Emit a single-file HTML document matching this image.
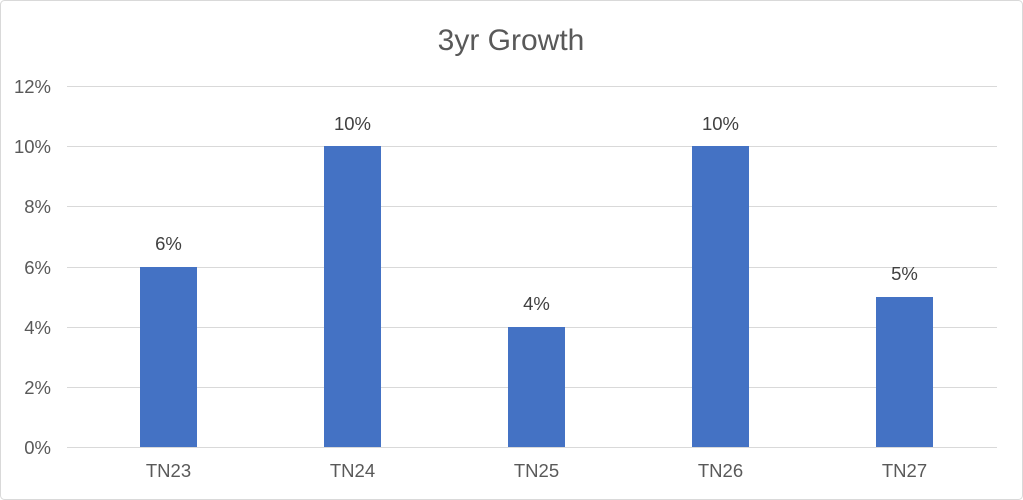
<!DOCTYPE html>
<html><head><style>
body{margin:0;background:#fff;}
svg{display:block;font-family:"Liberation Sans",Arial,sans-serif;}
</style></head><body>
<svg width="1023" height="500" viewBox="0 0 1023 500">
<rect x="0.5" y="0.5" width="1022" height="499" rx="4" fill="#fff" stroke="#d9d9d9"/>
<text x="511" y="50" text-anchor="middle" font-size="30" fill="#595959">3yr Growth</text>
<g stroke="#d9d9d9" stroke-width="1">
<line x1="67" x2="997" y1="86.5" y2="86.5"/>
<line x1="67" x2="997" y1="146.5" y2="146.5"/>
<line x1="67" x2="997" y1="206.5" y2="206.5"/>
<line x1="67" x2="997" y1="267.5" y2="267.5"/>
<line x1="67" x2="997" y1="327.5" y2="327.5"/>
<line x1="67" x2="997" y1="387.5" y2="387.5"/>
<line x1="67" x2="997" y1="447.5" y2="447.5"/>
</g>
<g font-size="18.5" fill="#595959" text-anchor="end">
<text x="51" y="93">12%</text>
<text x="51" y="153">10%</text>
<text x="51" y="213">8%</text>
<text x="51" y="274">6%</text>
<text x="51" y="334">4%</text>
<text x="51" y="394">2%</text>
<text x="51" y="454">0%</text>
</g>
<g fill="#4472c4">
<rect x="140" y="267" width="57" height="180"/>
<rect x="324" y="146" width="57" height="301"/>
<rect x="508" y="327" width="57" height="120"/>
<rect x="692" y="146" width="57" height="301"/>
<rect x="876" y="297" width="57" height="150"/>
</g>
<g font-size="18.5" fill="#404040" text-anchor="middle">
<text x="168.5" y="250">6%</text>
<text x="352.5" y="130">10%</text>
<text x="536.5" y="310">4%</text>
<text x="720.5" y="130">10%</text>
<text x="904.5" y="280">5%</text>
</g>
<g font-size="18.5" fill="#595959" text-anchor="middle">
<text x="168.5" y="477">TN23</text>
<text x="352.5" y="477">TN24</text>
<text x="536.5" y="477">TN25</text>
<text x="720.5" y="477">TN26</text>
<text x="904.5" y="477">TN27</text>
</g>
</svg>
</body></html>
